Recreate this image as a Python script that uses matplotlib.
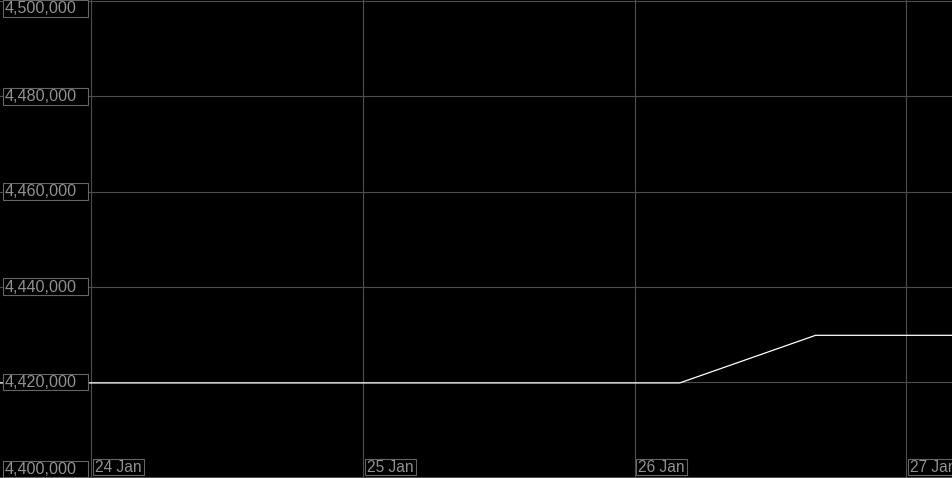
import pandas as pd
import matplotlib
matplotlib.use('Agg')
from matplotlib import pyplot as plt
import matplotlib.dates as mdates
from matplotlib.patches import Rectangle

# series values
times = ['2022-01-23 12:00', '2022-01-26 04:00', '2022-01-26 16:00', '2022-01-27 12:00']
values = [4419800, 4419800, 4429800, 4429800]

y_ticks = [4400000, 4420000, 4440000, 4460000, 4480000, 4500000]
x_ticks = ['2022-01-24', '2022-01-25', '2022-01-26', '2022-01-27']
x_labels = ['24 Jan', '25 Jan', '26 Jan', '27 Jan']

W, H = 953, 478
grid_col = '#4d4d4d'
text_col = '#919191'
box_col = '#666666'

plt.rcParams['font.family'] = ['Liberation Sans', 'DejaVu Sans']

fig = plt.figure(figsize=(W / 100, H / 100), dpi=100, facecolor='black')
ax = fig.add_axes([0, 0, 1, 1])
ax.set_facecolor('black')

t = mdates.date2num(pd.to_datetime(times))
ax.plot(t, values, color='white', lw=0.9, zorder=3)

day0 = mdates.date2num(pd.Timestamp('2022-01-24'))
px_day = 271.6
ax.set_xlim(day0 - 91.3 / px_day, day0 + (W - 91.3) / px_day)
ax.set_ylim(4399832, 4500231)

for s in ax.spines.values():
    s.set_visible(False)
ax.set_xticks([])
ax.set_yticks([])

for yv in y_ticks:
    ax.axhline(yv, color=grid_col, lw=0.8, zorder=1)
xt = mdates.date2num(pd.to_datetime(x_ticks))
for xv in xt:
    ax.axvline(xv, color=grid_col, lw=0.8, zorder=1)


def box(x0, y0, w, h):
    # x0, y0 in pixels from top-left
    ax.add_patch(Rectangle((x0 / W, 1 - (y0 + h) / H), w / W, h / H, transform=ax.transAxes,
                           facecolor='black', edgecolor=box_col, lw=0.8, zorder=5))


# y labels
for yv in y_ticks:
    ypix = H - ax.transData.transform((day0, yv))[1]
    top = ypix - 8.3
    top = max(top, 0.0)
    top = min(top, H - 17.3)
    box(3.3, top, 84.3, 16.6)
    ax.text(5 / W, 1 - (top + 8.6) / H, '{:,}'.format(yv), transform=ax.transAxes,
            va='center', ha='left', color=text_col, fontsize=11.6, zorder=6)

# x labels
for xv, lab in zip(xt, x_labels):
    xpix = ax.transData.transform((xv, 4400000))[0]
    box(xpix + 1.8, 459, 51, 15.6)
    ax.text((xpix + 3.8) / W, 1 - 467.2 / H, lab, transform=ax.transAxes,
            va='center', ha='left', color=text_col, fontsize=11.2, zorder=6, clip_on=True)

plt.savefig('out.png', dpi=100, facecolor='black')
